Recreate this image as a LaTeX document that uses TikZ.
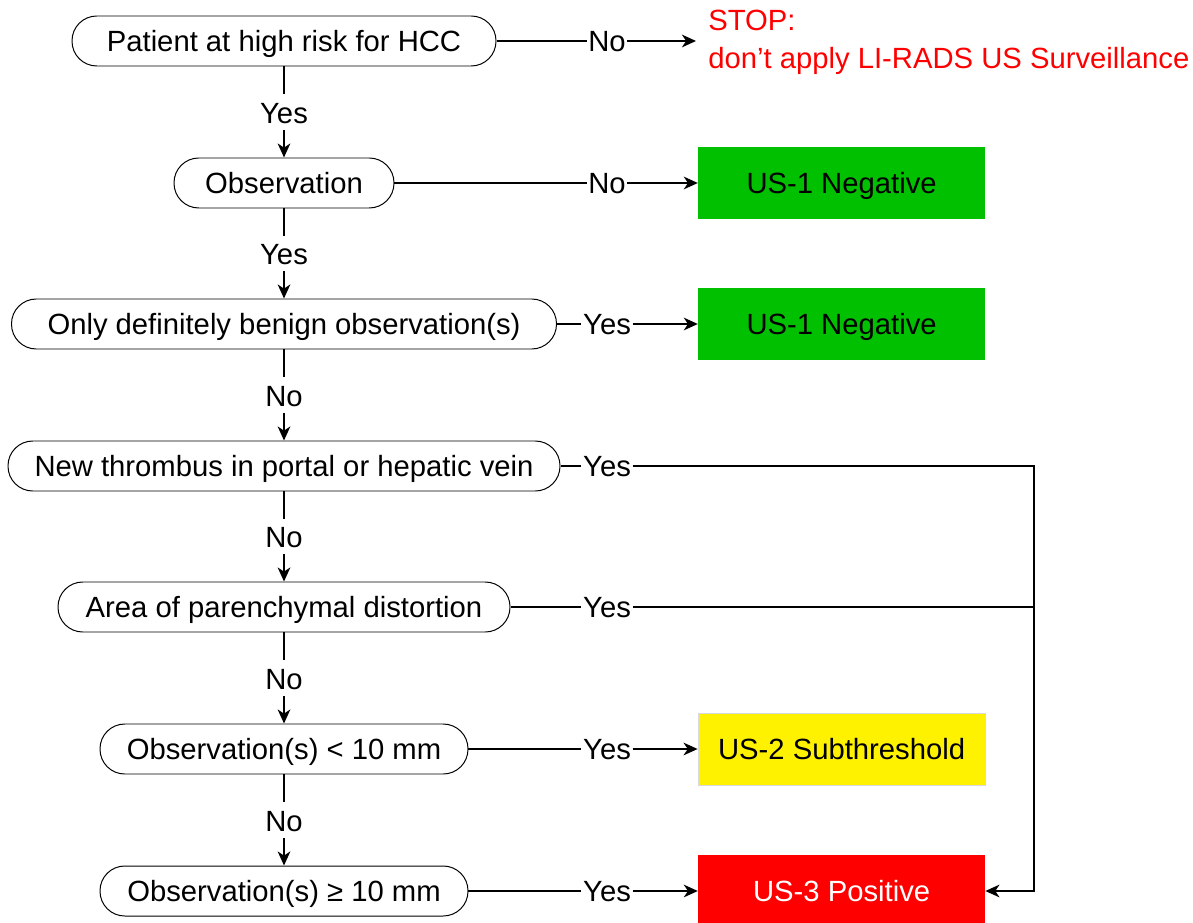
\documentclass[tikz,border=0pt]{standalone}
\usepackage{fontspec}
\setmainfont{Liberation Sans}
\usetikzlibrary{arrows.meta}
\definecolor{usgreen}{RGB}{0,192,0}
\begin{document}
\begin{tikzpicture}[>={Stealth[length=10pt,width=9pt,inset=3pt]},
  font=\fontsize{20.8}{27}\selectfont,
  link/.style={line width=1.4pt},
  q/.style={draw,line width=0.7pt,rounded corners=0.62cm,minimum height=1.25cm,inner sep=0pt,text height=14.5pt,text depth=0pt},
  res/.style={minimum width=7.175cm,minimum height=1.8cm,inner sep=0pt,text height=14.5pt,text depth=0pt},
  vlbl/.style={fill=white,inner xsep=1pt,inner ysep=0pt,text height=20.5pt,text depth=4.5pt},
  hlbl/.style={inner xsep=1pt,inner ysep=0pt,text height=14.5pt,text depth=0pt}]
\useasboundingbox (0,0) rectangle (29.825,-23.075);
% questions
\node[q,minimum width=10.6cm] (risk) at (7.1,-1.025) {Patient at high risk for HCC};
\node[q,minimum width=5.5cm] (obs) at (7.1,-4.575) {Observation};
\node[q,minimum width=13.625cm] (benign) at (7.1,-8.1) {Only definitely benign observation(s)};
\node[q,minimum width=13.8cm] (thromb) at (7.1,-11.65) {New thrombus in portal or hepatic vein};
\node[q,minimum width=11.3cm] (distort) at (7.1,-15.175) {Area of parenchymal distortion};
\node[q,minimum width=9.2cm] (small) at (7.1,-18.725) {Observation(s) < 10 mm};
\node[q,minimum width=9.2cm] (large) at (7.1,-22.275) {Observation(s) ≥ 10 mm};
% categories
\node[text=red,align=left,anchor=west,inner sep=0pt] (stop) at (17.7,-1.05) {STOP:\\don’t apply LI-RADS US Surveillance};
\coordinate (stopin) at (17.4,-1.025);
\node[res,fill=usgreen] (neg1) at (21.04,-4.575) {US-1 Negative};
\node[res,fill=usgreen] (neg2) at (21.04,-8.1) {US-1 Negative};
\node[res,fill=yellow,draw=black!15,line width=0.7pt] (sub) at (21.04,-18.725) {US-2 Subthreshold};
\node[res,fill=red,text=white] (pos) at (21.04,-22.275) {US-3 Positive};
% down the middle
\draw[link,->] (risk) -- node[vlbl] (y1) {Yes} (obs);
\draw[link,->] (obs) -- node[vlbl] (y2) {Yes} (benign);
\draw[link,->] (benign) -- node[vlbl] (n3) {No} (thromb);
\draw[link,->] (thromb) -- node[vlbl] (n4) {No} (distort);
\draw[link,->] (distort) -- node[vlbl] (n5) {No} (small);
\draw[link,->] (small) -- node[vlbl] (n6) {No} (large);
% to the right
\node[hlbl] (h1) at (15.175,-1.025) {No};
\node[hlbl] (h2) at (15.175,-4.575) {No};
\node[hlbl] (h3) at (15.175,-8.1) {Yes};
\node[hlbl] (h4) at (15.175,-11.65) {Yes};
\node[hlbl] (h5) at (15.175,-15.175) {Yes};
\node[hlbl] (h6) at (15.175,-18.725) {Yes};
\node[hlbl] (h7) at (15.175,-22.275) {Yes};
\draw[link] (risk) -- (h1);
\draw[link,->] (h1) -- (stopin);
\draw[link] (obs) -- (h2);
\draw[link,->] (h2) -- (neg1);
\draw[link] (benign) -- (h3);
\draw[link,->] (h3) -- (neg2);
\draw[link] (thromb) -- (h4);
\draw[link] (distort) -- (h5);
\draw[link] (small) -- (h6);
\draw[link,->] (h6) -- (sub);
\draw[link] (large) -- (h7);
\draw[link,->] (h7) -- (pos);
\coordinate (trunk) at (25.85,-22.275);
\draw[link,->] (h4.east) -| (trunk) -- (pos);
\draw[link] (h5.east) -- (h5.east -| trunk);
\end{tikzpicture}
\end{document}
